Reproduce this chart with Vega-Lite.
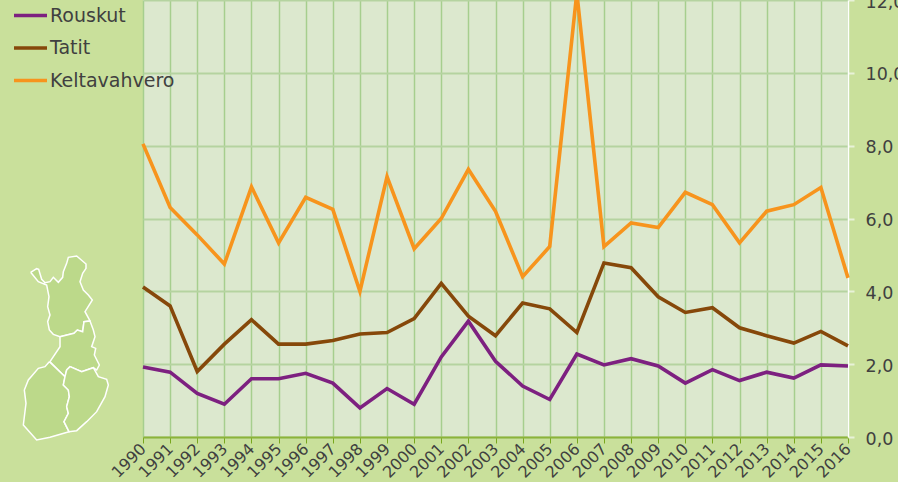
{"$schema":"https://vega.github.io/schema/vega-lite/v6.json","width":705,"height":437,"autosize":{"type":"none"},"padding":{"left":143,"top":0,"right":50,"bottom":45},"background":"#C9E09B","view":{"fill":"#DCE8CE","stroke":null},"config":{"font":"DejaVu Sans"},"resolve":{"scale":{"x":"independent","y":"independent"},"axis":{"x":"independent","y":"independent"}},"layer":[{"data":{"values":[
{"r":"Lappi","o":1,"mx":92,"my":97},{"r":"Lappi","o":2,"mx":110,"my":86},{"r":"Lappi","o":3,"mx":116,"my":88},{"r":"Lappi","o":4,"mx":125,"my":118},{"r":"Lappi","o":5,"mx":135,"my":128},{"r":"Lappi","o":6,"mx":150,"my":125},{"r":"Lappi","o":7,"mx":160,"my":112},{"r":"Lappi","o":8,"mx":175,"my":127},{"r":"Lappi","o":9,"mx":188,"my":112},{"r":"Lappi","o":10,"mx":190,"my":95},{"r":"Lappi","o":11,"mx":200,"my":70},{"r":"Lappi","o":12,"mx":205,"my":52},{"r":"Lappi","o":13,"mx":230,"my":48},{"r":"Lappi","o":14,"mx":258,"my":72},{"r":"Lappi","o":15,"mx":258,"my":85},{"r":"Lappi","o":16,"mx":248,"my":100},{"r":"Lappi","o":17,"mx":240,"my":125},{"r":"Lappi","o":18,"mx":250,"my":150},{"r":"Lappi","o":19,"mx":265,"my":165},{"r":"Lappi","o":20,"mx":277,"my":180},{"r":"Lappi","o":21,"mx":255,"my":215},{"r":"Lappi","o":22,"mx":270,"my":243},{"r":"Lappi","o":23,"mx":252,"my":245},{"r":"Lappi","o":24,"mx":248,"my":275},{"r":"Lappi","o":25,"mx":232,"my":270},{"r":"Lappi","o":26,"mx":222,"my":280},{"r":"Lappi","o":27,"mx":180,"my":290},{"r":"Lappi","o":28,"mx":160,"my":283},{"r":"Lappi","o":29,"mx":148,"my":270},{"r":"Lappi","o":30,"mx":143,"my":245},{"r":"Lappi","o":31,"mx":150,"my":225},{"r":"Lappi","o":32,"mx":143,"my":200},{"r":"Lappi","o":33,"mx":147,"my":170},{"r":"Lappi","o":34,"mx":140,"my":135},{"r":"Lappi","o":35,"mx":115,"my":125},{"r":"Lappi","o":36,"mx":92,"my":97},
{"r":"Keski","o":1,"mx":180,"my":290},{"r":"Keski","o":2,"mx":222,"my":280},{"r":"Keski","o":3,"mx":232,"my":270},{"r":"Keski","o":4,"mx":248,"my":275},{"r":"Keski","o":5,"mx":252,"my":245},{"r":"Keski","o":6,"mx":270,"my":243},{"r":"Keski","o":7,"mx":280,"my":270},{"r":"Keski","o":8,"mx":285,"my":290},{"r":"Keski","o":9,"mx":275,"my":320},{"r":"Keski","o":10,"mx":287,"my":325},{"r":"Keski","o":11,"mx":283,"my":345},{"r":"Keski","o":12,"mx":298,"my":375},{"r":"Keski","o":13,"mx":290,"my":390},{"r":"Keski","o":14,"mx":280,"my":383},{"r":"Keski","o":15,"mx":245,"my":395},{"r":"Keski","o":16,"mx":210,"my":380},{"r":"Keski","o":17,"mx":200,"my":390},{"r":"Keski","o":18,"mx":195,"my":410},{"r":"Keski","o":19,"mx":150,"my":365},{"r":"Keski","o":20,"mx":180,"my":320},{"r":"Keski","o":21,"mx":180,"my":290},
{"r":"Lansi","o":1,"mx":148,"my":365},{"r":"Lansi","o":2,"mx":195,"my":410},{"r":"Lansi","o":3,"mx":190,"my":435},{"r":"Lansi","o":4,"mx":205,"my":450},{"r":"Lansi","o":5,"mx":208,"my":470},{"r":"Lansi","o":6,"mx":200,"my":500},{"r":"Lansi","o":7,"mx":205,"my":520},{"r":"Lansi","o":8,"mx":192,"my":545},{"r":"Lansi","o":9,"mx":207,"my":575},{"r":"Lansi","o":10,"mx":150,"my":592},{"r":"Lansi","o":11,"mx":110,"my":600},{"r":"Lansi","o":12,"mx":70,"my":555},{"r":"Lansi","o":13,"mx":78,"my":490},{"r":"Lansi","o":14,"mx":73,"my":450},{"r":"Lansi","o":15,"mx":85,"my":420},{"r":"Lansi","o":16,"mx":115,"my":385},{"r":"Lansi","o":17,"mx":135,"my":380},{"r":"Lansi","o":18,"mx":148,"my":365},
{"r":"Ita","o":1,"mx":200,"my":390},{"r":"Ita","o":2,"mx":210,"my":380},{"r":"Ita","o":3,"mx":245,"my":395},{"r":"Ita","o":4,"mx":280,"my":383},{"r":"Ita","o":5,"mx":295,"my":410},{"r":"Ita","o":6,"mx":320,"my":418},{"r":"Ita","o":7,"mx":325,"my":435},{"r":"Ita","o":8,"mx":315,"my":470},{"r":"Ita","o":9,"mx":290,"my":515},{"r":"Ita","o":10,"mx":260,"my":545},{"r":"Ita","o":11,"mx":230,"my":572},{"r":"Ita","o":12,"mx":207,"my":575},{"r":"Ita","o":13,"mx":192,"my":545},{"r":"Ita","o":14,"mx":205,"my":520},{"r":"Ita","o":15,"mx":200,"my":500},{"r":"Ita","o":16,"mx":208,"my":470},{"r":"Ita","o":17,"mx":205,"my":450},{"r":"Ita","o":18,"mx":190,"my":435},{"r":"Ita","o":19,"mx":195,"my":410},{"r":"Ita","o":20,"mx":200,"my":390}
]},"mark":{"type":"line","fill":"#BCD98A","stroke":"#FFFFFF","strokeWidth":1.5,"clip":false},"encoding":{"x":{"field":"mx","type":"quantitative","scale":{"domain":[0,900],"range":[-143,157]},"axis":null},"y":{"field":"my","type":"quantitative","scale":{"domain":[0,726],"range":[240,482]},"axis":null},"detail":{"field":"r"},"order":{"field":"o","type":"quantitative"}}},
{"data":{"values":[
{"y":1990,"s":"Rouskut","v":1.92},{"y":1991,"s":"Rouskut","v":1.78},{"y":1992,"s":"Rouskut","v":1.2},{"y":1993,"s":"Rouskut","v":0.9},{"y":1994,"s":"Rouskut","v":1.6},{"y":1995,"s":"Rouskut","v":1.6},{"y":1996,"s":"Rouskut","v":1.75},{"y":1997,"s":"Rouskut","v":1.48},{"y":1998,"s":"Rouskut","v":0.8},{"y":1999,"s":"Rouskut","v":1.33},{"y":2000,"s":"Rouskut","v":0.9},{"y":2001,"s":"Rouskut","v":2.2},{"y":2002,"s":"Rouskut","v":3.18},{"y":2003,"s":"Rouskut","v":2.08},{"y":2004,"s":"Rouskut","v":1.4},{"y":2005,"s":"Rouskut","v":1.03},{"y":2006,"s":"Rouskut","v":2.28},{"y":2007,"s":"Rouskut","v":1.98},{"y":2008,"s":"Rouskut","v":2.15},{"y":2009,"s":"Rouskut","v":1.95},{"y":2010,"s":"Rouskut","v":1.48},{"y":2011,"s":"Rouskut","v":1.85},{"y":2012,"s":"Rouskut","v":1.55},{"y":2013,"s":"Rouskut","v":1.78},{"y":2014,"s":"Rouskut","v":1.62},{"y":2015,"s":"Rouskut","v":1.98},{"y":2016,"s":"Rouskut","v":1.95},
{"y":1990,"s":"Tatit","v":4.12},{"y":1991,"s":"Tatit","v":3.6},{"y":1992,"s":"Tatit","v":1.8},{"y":1993,"s":"Tatit","v":2.55},{"y":1994,"s":"Tatit","v":3.22},{"y":1995,"s":"Tatit","v":2.55},{"y":1996,"s":"Tatit","v":2.55},{"y":1997,"s":"Tatit","v":2.65},{"y":1998,"s":"Tatit","v":2.83},{"y":1999,"s":"Tatit","v":2.87},{"y":2000,"s":"Tatit","v":3.25},{"y":2001,"s":"Tatit","v":4.22},{"y":2002,"s":"Tatit","v":3.32},{"y":2003,"s":"Tatit","v":2.78},{"y":2004,"s":"Tatit","v":3.68},{"y":2005,"s":"Tatit","v":3.52},{"y":2006,"s":"Tatit","v":2.87},{"y":2007,"s":"Tatit","v":4.78},{"y":2008,"s":"Tatit","v":4.65},{"y":2009,"s":"Tatit","v":3.85},{"y":2010,"s":"Tatit","v":3.42},{"y":2011,"s":"Tatit","v":3.55},{"y":2012,"s":"Tatit","v":3.0},{"y":2013,"s":"Tatit","v":2.78},{"y":2014,"s":"Tatit","v":2.58},{"y":2015,"s":"Tatit","v":2.9},{"y":2016,"s":"Tatit","v":2.5},
{"y":1990,"s":"Keltavahvero","v":8.05},{"y":1991,"s":"Keltavahvero","v":6.3},{"y":1992,"s":"Keltavahvero","v":5.55},{"y":1993,"s":"Keltavahvero","v":4.75},{"y":1994,"s":"Keltavahvero","v":6.87},{"y":1995,"s":"Keltavahvero","v":5.33},{"y":1996,"s":"Keltavahvero","v":6.58},{"y":1997,"s":"Keltavahvero","v":6.25},{"y":1998,"s":"Keltavahvero","v":4.0},{"y":1999,"s":"Keltavahvero","v":7.15},{"y":2000,"s":"Keltavahvero","v":5.17},{"y":2001,"s":"Keltavahvero","v":6.0},{"y":2002,"s":"Keltavahvero","v":7.35},{"y":2003,"s":"Keltavahvero","v":6.2},{"y":2004,"s":"Keltavahvero","v":4.4},{"y":2005,"s":"Keltavahvero","v":5.23},{"y":2006,"s":"Keltavahvero","v":12.2},{"y":2007,"s":"Keltavahvero","v":5.23},{"y":2008,"s":"Keltavahvero","v":5.88},{"y":2009,"s":"Keltavahvero","v":5.75},{"y":2010,"s":"Keltavahvero","v":6.72},{"y":2011,"s":"Keltavahvero","v":6.38},{"y":2012,"s":"Keltavahvero","v":5.33},{"y":2013,"s":"Keltavahvero","v":6.2},{"y":2014,"s":"Keltavahvero","v":6.38},{"y":2015,"s":"Keltavahvero","v":6.85},{"y":2016,"s":"Keltavahvero","v":4.37}
]},"mark":{"type":"line","strokeWidth":3.6,"strokeJoin":"miter","clip":false},"encoding":{"x":{"field":"y","type":"quantitative","scale":{"domain":[1990,2016],"nice":false},"axis":{"title":null,"values":[1990,1991,1992,1993,1994,1995,1996,1997,1998,1999,2000,2001,2002,2003,2004,2005,2006,2007,2008,2009,2010,2011,2012,2013,2014,2015,2016],"format":"d","labelAngle":-45,"labelAlign":"right","labelBaseline":"middle","labelFontSize":16,"labelColor":"#404040","labelPadding":3,"labelOverlap":false,"labelFlush":false,"tickSize":6,"tickColor":"#78A81E","tickWidth":1,"domainColor":"#8DB33A","domainWidth":2,"grid":true,"gridColor":"#A6CE8E","gridWidth":1.5}},"y":{"field":"v","type":"quantitative","scale":{"domain":[0,12],"nice":false},"axis":{"title":null,"orient":"right","values":[0,2,4,6,8,10,12],"labelExpr":"replace(format(datum.value,'.1f'),'.',',')","labelFontSize":17.5,"labelColor":"#404040","labelPadding":11,"labelOffset":2,"labelFlush":false,"labelBound":false,"tickSize":6,"tickColor":"#E8F2D8","tickWidth":2,"domainColor":"#FFFFFF","domainWidth":1.5,"grid":true,"gridColor":"#B5D3A0","gridWidth":2}},"color":{"field":"s","type":"nominal","scale":{"domain":["Rouskut","Tatit","Keltavahvero"],"range":["#7D2080","#86480A","#F7941D"]},"legend":{"title":null,"orient":"none","legendX":-131,"legendY":-3,"symbolType":"stroke","symbolStrokeWidth":3.6,"symbolSize":1089,"labelFontSize":19,"labelColor":"#404040","labelOffset":1,"rowPadding":3.5,"labelLimit":200}}}}]}
